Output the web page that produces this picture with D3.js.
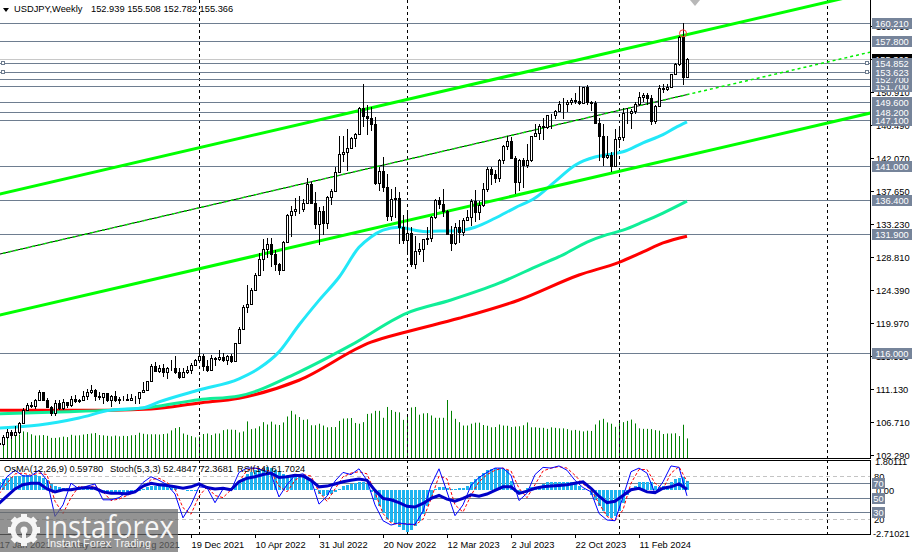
<!DOCTYPE html>
<html><head><meta charset="utf-8">
<script src="https://cdn.jsdelivr.net/npm/d3@7"></script>
<style>
body{margin:0;background:#fff;}
svg{display:block;font-family:"Liberation Sans",Arial,sans-serif;}
</style>
</head><body>
<svg id="c" width="915" height="552"></svg>
<script>
// ---------------- DATA ----------------
const symbolTitle = "USDJPY,Weekly";
const headerValues = "152.939 155.508 152.782 155.366";
// weekly bars, week 0 = 17 Jan 2021
const opens = [103.85,103.77,104.68,105.39,104.94,105.42,106.57,108.35,109.03,108.88,109.65,110.68,109.66,108.78,107.88,109.30,108.59,109.35,108.94,109.84,109.52,109.67,110.21,110.76,111.05,110.14,110.06,110.55,109.72,110.22,109.59,109.79,109.83,109.71,109.93,109.93,110.73,111.06,112.23,114.21,113.48,113.97,113.40,113.91,114.00,113.39,112.80,113.44,113.70,114.38,115.08,115.56,114.18,113.68,115.27,115.20,115.43,114.99,115.55,114.84,117.30,119.18,122.05,122.50,124.34,126.41,128.51,129.86,130.55,129.21,127.86,127.11,130.87,134.41,134.97,135.19,135.21,136.08,138.55,136.09,133.26,134.99,133.42,136.91,137.64,140.20,142.56,142.92,143.35,144.74,145.33,148.71,147.68,147.47,146.62,138.78,140.39,138.25,134.31,136.63,136.66,132.80,131.10,132.08,127.88,129.58,129.87,131.19,131.38,134.14,136.48,135.85,134.96,131.88,130.73,132.80,132.18,133.77,134.15,136.29,134.82,135.71,137.93,140.61,139.95,139.40,141.82,143.73,144.31,142.11,138.82,141.82,141.16,141.78,144.96,145.38,146.38,146.22,147.81,147.85,148.38,149.35,149.30,149.58,149.86,149.66,149.38,151.52,149.62,149.44,146.81,144.95,142.16,142.43,141.03,144.65,144.91,148.14,148.16,148.38,149.27,150.21,150.50,150.08,147.06,149.04,151.43,151.35,151.62,153.27,154.63,158.33,152.939];
const highs = [104.09,104.94,105.77,105.65,106.22,106.69,108.65,109.24,109.36,109.85,110.97,110.72,109.96,108.90,109.70,109.70,109.79,109.44,110.20,110.33,109.84,110.82,111.11,111.66,111.12,110.70,110.59,110.60,110.38,110.80,110.07,110.25,110.42,110.45,110.16,110.79,112.08,112.25,114.46,114.70,114.32,114.45,114.10,114.97,115.52,113.90,113.95,114.27,114.55,115.20,116.35,115.83,115.06,115.68,115.48,116.34,116.01,115.75,115.81,117.34,119.41,122.44,125.09,124.68,126.68,129.40,131.25,131.34,131.35,129.78,127.94,130.98,134.56,135.60,136.71,137.00,136.57,139.38,138.88,137.47,135.57,135.58,137.00,137.97,140.80,144.99,144.96,145.90,144.87,145.43,148.86,151.94,149.14,148.85,147.62,140.80,142.25,139.89,137.86,138.18,137.47,134.50,134.77,132.87,131.58,130.62,131.20,132.89,134.35,136.54,136.91,137.91,135.11,133.00,133.37,133.76,134.03,135.13,136.56,137.77,136.31,138.75,140.93,140.93,140.45,141.91,143.87,145.07,144.91,142.33,142.00,142.05,143.89,145.00,146.56,146.64,147.37,147.87,147.95,148.47,149.71,150.16,149.82,150.08,150.78,151.72,151.61,151.91,149.75,149.68,147.49,146.59,144.96,142.82,145.98,146.41,148.81,148.70,148.59,149.58,150.89,150.77,150.84,150.48,149.17,151.86,151.97,151.95,153.38,154.79,158.44,160.21,155.508];
const lows = [103.33,103.55,104.41,104.41,104.92,105.14,106.56,108.33,108.61,108.41,109.62,109.50,108.61,107.48,107.50,108.34,108.34,108.56,108.70,109.19,109.19,109.53,109.72,110.42,109.53,109.72,109.07,109.35,108.71,109.37,109.12,109.58,109.59,109.60,109.11,109.11,110.72,110.82,112.23,113.40,113.26,112.73,112.53,113.58,113.08,112.53,112.80,113.14,113.15,114.28,115.06,113.48,113.47,113.48,114.15,114.87,114.68,114.41,114.65,114.83,117.29,119.06,121.28,122.39,124.33,126.26,126.95,128.68,127.52,126.95,126.36,127.02,130.68,131.50,134.27,134.51,134.77,135.98,136.86,132.52,130.39,131.73,132.55,135.80,137.62,140.18,141.58,140.36,143.28,143.53,145.21,146.23,145.11,145.71,138.47,137.67,137.50,133.62,133.64,134.07,130.58,130.57,129.52,127.46,127.22,129.02,128.08,130.47,130.84,133.84,135.27,134.12,131.71,129.65,130.40,130.63,131.57,133.57,133.01,133.50,133.74,135.44,137.49,138.44,138.76,138.81,141.32,143.16,142.07,137.24,137.67,138.06,140.70,141.51,144.82,144.52,144.44,145.91,145.92,147.32,148.30,147.30,148.17,149.23,149.34,149.20,149.35,149.19,148.34,146.67,141.63,140.96,141.93,140.25,140.82,143.42,144.35,146.63,145.89,147.94,149.09,149.63,149.21,146.48,146.63,148.86,150.81,151.01,151.59,153.20,154.33,151.86,152.782];
const closes = [103.77,104.68,105.39,104.94,105.42,106.57,108.35,109.03,108.88,109.65,110.68,109.66,108.78,107.88,109.30,108.59,109.35,108.94,109.84,109.52,109.67,110.21,110.76,111.05,110.14,110.06,110.55,109.72,110.22,109.59,109.79,109.83,109.71,109.93,109.93,110.73,111.06,112.23,114.21,113.48,113.97,113.40,113.91,114.00,113.39,112.80,113.44,113.70,114.38,115.08,115.56,114.18,113.68,115.27,115.20,115.43,114.99,115.55,114.84,117.30,119.18,122.05,122.50,124.34,126.41,128.51,129.86,130.55,129.21,127.86,127.11,130.87,134.41,134.97,135.19,135.21,136.08,138.55,136.09,133.26,134.99,133.42,136.91,137.64,140.20,142.56,142.92,143.35,144.74,145.33,148.71,147.68,147.47,146.62,138.78,140.39,138.25,134.31,136.63,136.66,132.80,131.10,132.08,127.88,129.58,129.87,131.19,131.38,134.14,136.48,135.85,134.96,131.88,130.73,132.80,132.18,133.77,134.15,136.29,134.82,135.71,137.93,140.61,139.95,139.40,141.82,143.73,144.31,142.11,138.82,141.82,141.16,141.78,144.96,145.38,146.38,146.22,147.81,147.85,148.38,149.35,149.30,149.58,149.86,149.66,149.38,151.52,149.62,149.44,146.81,144.95,142.16,142.43,141.03,144.65,144.91,148.14,148.16,148.38,149.27,150.21,150.50,150.08,147.06,149.04,151.43,151.35,151.62,153.27,154.63,158.33,152.94,155.366];
const volumes = [80,85,78,81,87,91,103,100,92,87,88,89,86,78,78,80,83,81,90,87,88,91,93,95,97,89,88,86,84,87,84,86,85,88,89,98,94,92,92,92,91,93,95,107,116,120,95,90,85,80,83,93,95,89,95,95,108,111,110,109,99,103,142,112,115,123,139,130,141,130,128,138,161,183,169,159,148,150,127,127,133,126,119,120,120,144,153,154,155,136,133,139,171,173,183,183,156,198,186,179,177,148,168,196,198,168,173,174,165,156,156,156,225,183,152,139,126,126,133,137,137,128,125,119,120,130,126,125,120,122,123,127,138,119,119,117,117,113,119,117,115,115,112,107,109,106,103,106,105,130,146,152,138,133,121,135,139,144,149,134,115,113,113,112,108,106,93,95,95,96,85,129,76];

// moving averages, read at sample weeks
const maFastWeeks = [0,10,20,28,36,40,50,60,65,70,75,80,85,90,93,96,100,104,107,110,114,119,124,129,134,139,144,149,152,156,161,166,169,172];
const maFastValues = [105.9,106.3,107.25,108.3,108.6,109.4,111.0,112.5,113.9,116.1,119.7,123.0,126.1,130.1,131.5,132.4,132.8,132.4,132.2,132.3,132.3,132.8,134.0,135.4,136.7,138.9,141.1,142.2,142.5,142.9,144.1,145.2,146.1,146.9];
const maMidWeeks = [0,15,28,38,50,60,75,88,102,113,125,135,141,147,152,156,161,166,172];
const maMidValues = [107.8,108.05,108.3,108.7,109.7,110.2,113.4,117.0,121.3,123.05,125.3,127.7,129.1,130.8,131.8,132.4,133.5,134.7,136.3];
const maSlowWeeks = [0,15,28,38,50,60,75,93,102,115,130,145,155,161,166,172];
const maSlowValues = [108.3,108.3,108.3,108.45,109.25,109.9,112.3,117.4,118.8,120.6,123.05,126.4,128.1,129.5,130.7,131.6];

// trend lines: [week, price] anchors
const upperChannel = [[0,137.22],[172,158.60]];
const middleLine  = [[0,129.18],[172,150.56]];
const lowerChannel = [[0,121.01],[172,142.39]];
const markerPoint = [171,158.77];

// horizontal levels
const levelPrices = [160.210,157.800,154.852,153.623,152.700,151.700,149.600,148.200,147.100,141.000,136.400,131.900,116.000];
const bidPrice = 155.366;
const priceTicks = [102.290,106.710,111.130,115.550,119.970,124.390,128.810,133.230,137.650,142.070,146.490,150.910,155.330,159.750];
const timeLabelWeeks = [0,16,32,48,64,80,96,112,128,144,160];
const timeLabels = ["17 Jan 2021","9 May 2021","29 Aug 2021","19 Dec 2021","10 Apr 2022","31 Jul 2022","20 Nov 2022","12 Mar 2023","2 Jul 2023","22 Oct 2023","11 Feb 2024"];
const separatorWeeks = [50,102,155,207];

// indicators
const osmaValues = [0.55,0.7,0.8, 0.85,0.9,0.92,0.95,0.95,0.93,0.95,0.9, 0.8,0.65,0.4,0.25,0.2,0.15, 0.12,0.1,0.1,0.12,0.15,0.18,0.18,0.15, -0.05,-0.1,-0.15,-0.15,-0.2,-0.2,-0.18,-0.15,-0.12,-0.08,-0.03, 0.1,0.2,0.28,0.3,0.3,0.28,0.25,0.2, 0.12,0.05,0.0,-0.05,-0.05,-0.02, 0.02,0.02,0.0,0.02,0.05,0.05,0.05,0.05, 0.1,0.3,0.55,0.8,1.0,1.15,1.25,1.35,1.4,1.45, 1.4,1.3,1.15, 1.0,0.95,0.95,0.9,0.85,0.85,0.8, 0.5,0.1,-0.2,-0.35,-0.3,-0.2,-0.1, 0.1,0.25,0.35,0.4,0.45,0.5,0.5,0.4, -0.1,-0.6,-1.0,-1.4,-1.8,-2.0,-2.1,-2.3, -2.5,-2.6,-2.5,-2.2,-1.9,-1.5,-1.0,-0.4,0.1,0.2, 0.2,0.15,0.1,0.1,0.12,0.15, 0.3,0.5,0.7,0.9,1.1,1.25,1.35, 1.4,1.4,1.35,1.3, 0.6,-0.1,-0.1, 0.05,0.15,0.2,0.2,0.25, 0.4,0.5,0.55,0.55,0.55,0.55,0.55,0.5,0.45, 0.25,0.1,0.05,-0.3, -0.6,-1.0,-1.3,-1.6,-1.7,-1.6,-1.3, -0.8,-0.3,0.0, 0.3,0.5,0.55,0.55,0.5,0.3, 0.2,0.25,0.3,0.5, 0.7,0.8,0.85,0.5978];
// oscillators sampled every second week (0,2,...,172)
const stochMain = [60,79,88,80,80,88,74,24,40,70,62,66,69,47,47,50,58,59,71,79,74,68,55,22,40,65,64,43,62,60,85,91,91,88,83,51,68,81,83,75,41,52,73,85,82,90,74,40,18,12,15,13,13,31,67,90,58,25,40,67,78,85,91,91,81,46,56,82,92,91,94,88,74,64,58,28,19,18,51,86,91,84,56,72,94,92,52.48];
const stochSignal = [55,70,83,84,81,84,82,45,28,50,66,63,67,58,46,48,53,58,64,75,77,71,62,36,27,52,65,53,50,61,72,88,91,90,86,66,58,74,82,80,58,45,62,79,84,86,83,57,28,15,13,14,12,20,48,80,76,40,30,53,72,82,88,91,87,63,50,68,87,91,93,91,81,69,61,42,24,18,33,70,89,89,70,62,84,93,72.37];
const rsiValues = [42,52,62,68,70,70,62,58,61,61,63,64,63,58,56,56,55,58,66,70,68,67,65,63,65,69,64,62,63,61,72,77,79,82,84,78,79,81,80,74,65,66,69,72,74,76,74,60,49,47,43,38,37,42,49,53,48,45,49,54,52,55,60,65,65,56,59,63,65,66,67,68,70,72,63,52,43,45,53,61,63,58,57,63,65,69,61.70];
const indicatorTitles = ["OsMA(12,26,9) 0.59780","Stoch(5,3,3) 52.4847 72.3681","RSI(14) 61.7024"];
const oscLevels = [80,70,50,30,20];
const watermarkTitle = "instaforex";
const watermarkSub = "Instant Forex Trading";

// ---------------- CHART ----------------
const svg = d3.select("#c");
const plotRight = 870, mainBottom = 458, indTop = 460, indBottom = 534;
const x = d3.scaleLinear().domain([0,172]).range([-1,687]);
const y = d3.scaleLinear().domain([101.888,163.232]).range([458,0]);
const yVol = d3.scaleLinear().domain([0,225]).range([458,400]);
const yOs = d3.scaleLinear().domain([-2.71021,1.80111]).range([533.7,461.6]);
const yPct = d3.scaleLinear().domain([0,100]).range([533.7,461.6]);
const LEVEL = "#6e7d90";
const FS = 9.3;

const defs = svg.append("defs");
defs.append("clipPath").attr("id","cm").append("rect").attr("x",0).attr("y",0).attr("width",plotRight).attr("height",mainBottom);
defs.append("clipPath").attr("id","ci").append("rect").attr("x",0).attr("y",indTop).attr("width",plotRight).attr("height",indBottom-indTop);

svg.append("rect").attr("width",915).attr("height",552).attr("fill","#fff");
const gm = svg.append("g").attr("clip-path","url(#cm)");
const idx = d3.range(opens.length);

// volume
gm.append("g").selectAll("line").data(idx).join("line")
  .attr("x1",i=>Math.round(x(i))+0.5).attr("x2",i=>Math.round(x(i))+0.5)
  .attr("y1",mainBottom).attr("y2",i=>yVol(volumes[i]))
  .attr("stroke","#008000").attr("stroke-width",1);

// separators
gm.append("g").selectAll("line").data(separatorWeeks).join("line")
  .attr("x1",d=>Math.round(x(d))+0.5).attr("x2",d=>Math.round(x(d))+0.5)
  .attr("y1",0).attr("y2",mainBottom).attr("stroke","#000").attr("stroke-dasharray","3,3");

// levels
gm.append("g").selectAll("line").data(levelPrices).join("line")
  .attr("x1",0).attr("x2",plotRight)
  .attr("y1",d=>Math.round(y(d))+0.5).attr("y2",d=>Math.round(y(d))+0.5)
  .attr("stroke",LEVEL).attr("stroke-width",1);
gm.append("line").attr("x1",0).attr("x2",plotRight)
  .attr("y1",Math.round(y(bidPrice))+0.5).attr("y2",Math.round(y(bidPrice))+0.5)
  .attr("stroke","#c8c8c8");
[154.852,153.623].forEach(p=>{
  [1,865].forEach(hx=>{
    gm.append("rect").attr("x",hx+0.5).attr("y",Math.round(y(p))-1.5).attr("width",3).attr("height",3)
      .attr("fill","#fff").attr("stroke",LEVEL);
  });
});

// moving averages
function maLine(ws,vs,color,w){
  const pts = ws.map((d,i)=>[x(d),y(vs[i])]);
  gm.append("path").attr("d",d3.line().curve(d3.curveMonotoneX)(pts))
    .attr("fill","none").attr("stroke",color).attr("stroke-width",w);
}
maLine(maSlowWeeks,maSlowValues,"#ff0000",3);
maLine(maMidWeeks,maMidValues,"#10ee98",3);
maLine(maFastWeeks,maFastValues,"#22e8f8",3);

// trend lines
function ext(a,w){const s=(a[1][1]-a[0][1])/(a[1][0]-a[0][0]);return a[0][1]+s*(w-a[0][0]);}
const wEnd = (plotRight+1)/4 + 1;
[upperChannel,lowerChannel].forEach(a=>{
  gm.append("line").attr("x1",x(-2)).attr("y1",y(ext(a,-2))).attr("x2",x(wEnd)).attr("y2",y(ext(a,wEnd)))
    .attr("stroke","#00ff00").attr("stroke-width",3);
});
gm.append("line").attr("x1",x(-2)).attr("y1",y(ext(middleLine,-2))).attr("x2",x(172)).attr("y2",y(ext(middleLine,172)))
  .attr("stroke","#000").attr("stroke-width",1);
gm.append("line").attr("x1",x(-2)).attr("y1",y(ext(middleLine,-2))).attr("x2",x(wEnd)).attr("y2",y(ext(middleLine,wEnd)))
  .attr("stroke","#00ee00").attr("stroke-width",1.5).attr("stroke-dasharray","3,3");

// candles
const gc = gm.append("g").attr("shape-rendering","crispEdges");
idx.forEach(i=>{
  const cx = Math.round(x(i));
  gc.append("line").attr("x1",cx+0.5).attr("x2",cx+0.5).attr("y1",y(highs[i])).attr("y2",y(lows[i])).attr("stroke","#000");
  const top = y(Math.max(opens[i],closes[i])), bot = y(Math.min(opens[i],closes[i]));
  const bull = closes[i]>=opens[i];
  gc.append("rect").attr("x",cx-0.5).attr("y",Math.round(top)+0.5).attr("width",2)
    .attr("height",Math.max(0,Math.round(bot)-Math.round(top)))
    .attr("fill",bull?"#fff":"#000").attr("stroke","#000").attr("stroke-width",1);
});
gm.append("circle").attr("cx",x(markerPoint[0])).attr("cy",y(markerPoint[1])).attr("r",3.5)
  .attr("fill","none").attr("stroke","#ff3030").attr("stroke-width",1);
svg.append("path").attr("d","M690,0 L700,0 L695,6 Z").attr("fill","#b8b8b8");

// header
svg.append("path").attr("d","M3,8 L9,8 L6,12 Z").attr("fill","#000");
svg.append("text").attr("x",14).attr("y",12).attr("font-size",FS).text(symbolTitle);
svg.append("text").attr("x",91).attr("y",12).attr("font-size",FS).text(headerValues);

// main borders
svg.append("line").attr("x1",plotRight+0.5).attr("x2",plotRight+0.5).attr("y1",0).attr("y2",mainBottom+1).attr("stroke","#000");
svg.append("line").attr("x1",0).attr("x2",plotRight+1).attr("y1",mainBottom+0.5).attr("y2",mainBottom+0.5).attr("stroke","#000");

// right price axis
const ga = svg.append("g").attr("font-size",FS);
priceTicks.forEach(p=>{
  const yy = Math.round(y(p))+0.5;
  ga.append("line").attr("x1",plotRight).attr("x2",plotRight+4).attr("y1",yy).attr("y2",yy).attr("stroke","#000");
  ga.append("text").attr("x",876).attr("y",yy+3.5).text(d3.format(".3f")(p));
});
function priceBox(p,fill){
  const yy = Math.round(y(p));
  ga.append("rect").attr("x",872).attr("y",yy-5).attr("width",40).attr("height",11).attr("fill",fill);
  ga.append("text").attr("x",892).attr("y",yy+4).attr("text-anchor","middle").attr("fill","#fff").text(d3.format(".3f")(p));
}
priceBox(bidPrice,"#000");
levelPrices.slice().sort((a,b)=>a-b).forEach(p=>priceBox(p,"#76849a"));

// ---------------- INDICATOR PANEL ----------------
const gi = svg.append("g").attr("clip-path","url(#ci)");
gi.append("g").selectAll("line").data(separatorWeeks).join("line")
  .attr("x1",d=>Math.round(x(d))+0.5).attr("x2",d=>Math.round(x(d))+0.5)
  .attr("y1",indTop).attr("y2",indBottom).attr("stroke","#000").attr("stroke-dasharray","3,3");
oscLevels.forEach(l=>{
  const yy = Math.round(yPct(l))+0.5;
  const dashed = (l===80||l===20);
  gi.append("line").attr("x1",0).attr("x2",plotRight).attr("y1",yy).attr("y2",yy)
    .attr("stroke",dashed?"#c4c4c4":LEVEL).attr("stroke-dasharray",dashed?"4,3":null);
});
gi.append("g").attr("shape-rendering","crispEdges").selectAll("rect").data(idx).join("rect")
  .attr("x",i=>Math.round(x(i))-1).attr("width",3)
  .attr("y",i=>Math.min(yOs(0),yOs(osmaValues[i])))
  .attr("height",i=>Math.abs(yOs(osmaValues[i])-yOs(0)))
  .attr("fill","#1eb4f0");
const oscWeeks = d3.range(0,173,2);
const ln = d3.line();
gi.append("path").attr("d",ln(oscWeeks.map((w,i)=>[x(w),yPct(stochSignal[i])])))
  .attr("fill","none").attr("stroke","#ff0000").attr("stroke-width",1).attr("stroke-dasharray","3,2");
gi.append("path").attr("d",ln(oscWeeks.map((w,i)=>[x(w),yPct(stochMain[i])])))
  .attr("fill","none").attr("stroke","#0000ff").attr("stroke-width",1);
gi.append("path").attr("d",ln(oscWeeks.map((w,i)=>[x(w),yPct(rsiValues[i])])))
  .attr("fill","none").attr("stroke","#0000c8").attr("stroke-width",3);

const titleX = [4,110,237];
indicatorTitles.forEach((t,i)=>svg.append("text").attr("x",titleX[i]).attr("y",472).attr("font-size",FS).text(t));

svg.append("rect").attr("x",-1).attr("y",indTop+0.5).attr("width",plotRight+1.5).attr("height",indBottom-indTop)
  .attr("fill","none").attr("stroke","#000");

const gia = svg.append("g").attr("font-size",FS);
[[1.80111,"1.80111",875],[0,"0.00",876],[-2.71021,"-2.71021",873]].forEach(d=>{
  gia.append("text").attr("x",d[2]).attr("y",yOs(d[0])+3.5).text(d[1]);
});
[80,20].forEach(l=>gia.append("text").attr("x",874).attr("y",yPct(l)+3.5).text(l));
[70,50,30].forEach(l=>{
  const yy = Math.round(yPct(l));
  gia.append("rect").attr("x",872).attr("y",yy-5).attr("width",13).attr("height",11).attr("fill","#76849a");
  gia.append("text").attr("x",878.5).attr("y",yy+4).attr("text-anchor","middle").attr("fill","#fff").text(l);
});

// time axis
const gt = svg.append("g").attr("font-size",FS);
timeLabelWeeks.forEach((w,i)=>{
  const xx = Math.round(x(w))+0.5;
  gt.append("line").attr("x1",xx).attr("x2",xx).attr("y1",indBottom).attr("y2",indBottom+4).attr("stroke","#000");
  gt.append("text").attr("x",xx).attr("y",548).text(timeLabels[i]);
});

// watermark
const wm = svg.append("g");
wm.append("rect").attr("x",0).attr("y",509).attr("width",178).attr("height",43).attr("fill","#6a6a6a").attr("opacity",0.72);
const gear = wm.append("g").attr("transform","translate(24,530)").attr("fill","#fff").attr("opacity",0.92);
d3.range(8).forEach(k=>{
  gear.append("rect").attr("x",-3).attr("y",-16).attr("width",6).attr("height",7).attr("transform",`rotate(${k*45})`);
});
gear.append("circle").attr("r",11).attr("fill","none").attr("stroke","#fff").attr("stroke-width",5);
gear.append("circle").attr("r",3.5);
gear.append("rect").attr("x",-2).attr("y",0).attr("width",4).attr("height",10);
wm.append("text").attr("x",44).attr("y",538).attr("font-size",31).attr("fill","#fff").attr("opacity",0.92)
  .attr("textLength",130).attr("lengthAdjust","spacingAndGlyphs")
  .attr("font-family","'Open Sans','Liberation Sans',sans-serif").text(watermarkTitle);
wm.append("text").attr("x",47).attr("y",547).attr("font-size",10.5).attr("fill","#fff").attr("opacity",0.92)
  .attr("textLength",104).attr("lengthAdjust","spacingAndGlyphs").text(watermarkSub);
</script>
</body></html>
